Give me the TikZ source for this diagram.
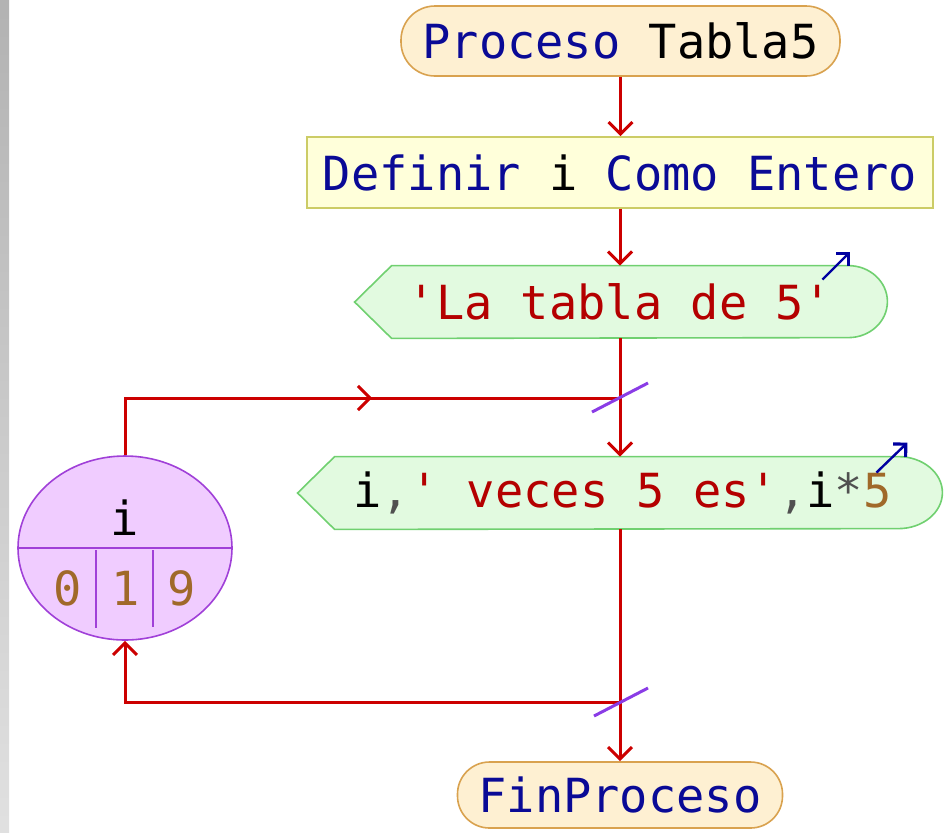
\documentclass[tikz,border=0pt]{standalone}
\usepackage{fontspec}
\setmonofont{DejaVu Sans Mono}
\usetikzlibrary{arrows.meta,decorations.markings,shapes.geometric,backgrounds}
\definecolor{flowred}{HTML}{CC0000}
\definecolor{kwblue}{HTML}{0A0A96}
\definecolor{strred}{HTML}{B40000}
\definecolor{numbrown}{HTML}{A0692A}
\definecolor{punctgray}{HTML}{505050}
\definecolor{termfill}{HTML}{FEF0D2}
\definecolor{termborder}{HTML}{D9A24F}
\definecolor{deffill}{HTML}{FFFFDA}
\definecolor{defborder}{HTML}{CCCC66}
\definecolor{outfill}{HTML}{E2FAE0}
\definecolor{outborder}{HTML}{70D070}
\definecolor{varfill}{HTML}{F0CCFF}
\definecolor{varborder}{HTML}{A040D8}
\definecolor{slashpurple}{HTML}{8A3CE6}
\definecolor{arrowblue}{HTML}{0000A0}

\begin{document}
\begin{tikzpicture}
[
x=0.5pt,y=-0.5pt,
every node/.style={font=\ttfamily\fontsize{23.5}{28}\selectfont,inner sep=0pt},
flow/.style={draw=flowred,line width=1.5pt,-{Straight Barb[length=6pt,width=12pt]}},
wire/.style={draw=flowred,line width=1.5pt},
amark/.style={
            decoration={
                        markings,
                        mark=at position {#1} with {
                                    \arrow[flowred,line width=1.5pt]{Straight Barb[length=6pt,width=12pt]}
                        }
            },
            postaction={decorate}
},
terminal/.style 2 args={draw=termborder,fill=termfill,line width=0.8pt,rounded corners=#2,minimum width=#1,minimum height=2*#2+1pt,text=kwblue},
defbox/.style={draw=defborder,fill=deffill,line width=0.8pt,minimum width=313pt,minimum height=35.5pt,text=kwblue},
outbox/.style={minimum width=#1,minimum height=36pt},
outshape/.style={draw=outborder,fill=outfill,line width=0.8pt},
outarrow/.style={draw=arrowblue,line width=1.2pt,-{Straight Barb[length=4.5pt,width=9pt,line width=1.6pt]}},
varcirc/.style={ellipse,draw=varborder,fill=varfill,line width=0.8pt,minimum width=107pt,minimum height=92pt},
varline/.style={draw=varborder,line width=0.8pt},
numtext/.style={text=numbrown},
slash/.style={draw=slashpurple,line width=1.5pt},
]
\useasboundingbox (0,0) rectangle (946,832);
\shade[top color=black!30,bottom color=black!12] (0,0) rectangle (9,832);

%Place the nodes
\node[terminal={219.5pt}{17pt}] (start) at (620.5,41) {Proceso \textcolor{black}{Tabla5}};
\node[defbox] (def) at (620,172.5) {Definir \textcolor{black}{i} Como Entero};
\node[outbox=228pt,text=strred] (out1) at (620,302) {'La tabla de 5'};
\node[outbox=281.5pt] (out2) at (616.5,493) {\hspace*{6pt}i\textcolor{punctgray}{,}\textcolor{strred}{' veces 5 es'}\textcolor{punctgray}{,}i\textcolor{punctgray}{*}\textcolor{numbrown}{5}};
\node[terminal={162.5pt}{16pt}] (fin) at (620,795) {FinProceso};
\node[varcirc] (var) at (125,548) {};
\node (vname) at (125,518) {i};
\node[numtext] (v0) at (68,588) {0};
\node[numtext] (v1) at (126,588) {1};
\node[numtext] (v9) at (182,588) {9};
\coordinate (join1) at (621,398);
\coordinate (join2) at (621,702);

%Output shapes
\begin{scope}[on background layer]
\filldraw[outshape] (out1.north west) -- (out1.north east) arc[start angle=90,end angle=-90,x radius=19.5pt,y radius=18pt] -- (out1.south west) -- ([xshift=-18.5pt]out1.west) -- cycle;
\filldraw[outshape] (out2.north west) -- (out2.north east) arc[start angle=90,end angle=-90,x radius=22pt,y radius=18pt] -- (out2.south west) -- ([xshift=-18.5pt]out2.west) -- cycle;
\end{scope}
\draw[outarrow] ([shift={(-13pt,-7pt)}]out1.north east) -- ++(14pt,14pt);
\draw[outarrow] ([shift={(-11pt,-8pt)}]out2.north east) -- ++(15.5pt,15pt);

%Variable cells
\draw[varline] (var.west) -- (var.east);
\draw[varline] (96,550) -- (96,628);
\draw[varline] (153,550) -- (153,627);

%Draw the connections
\draw[flow] (start) -- (start |- def.north);
\draw[flow] (def) -- (out1.north);
\draw[flow] (out1.south) -- (out1.south |- out2.north);
\draw[flow] (out1.south |- out2.south) -- (out1.south |- fin.north);
\draw[wire,amark=0.55] (var.north) |- (join1);
\draw[flow] (join2) -| (var.south);
\draw[slash] ([shift={(-14.5pt,-7pt)}]join1) -- ([shift={(13.5pt,7.5pt)}]join1);
\draw[slash] ([shift={(-13.5pt,-7pt)}]join2) -- ([shift={(13.5pt,7pt)}]join2);
\end{tikzpicture}
\end{document}
